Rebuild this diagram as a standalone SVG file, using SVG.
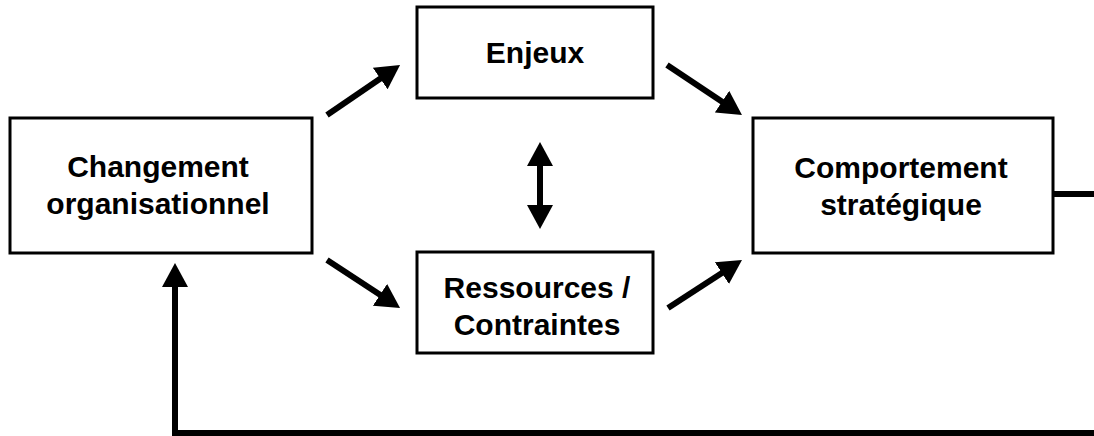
<svg xmlns="http://www.w3.org/2000/svg" width="1094" height="436" viewBox="0 0 1094 436">
  <style>
    .box { fill: #ffffff; stroke: #000000; stroke-width: 3; }
    .label { font-family: "Liberation Sans", Arial, sans-serif; font-weight: bold; font-size: 30px; fill: #000000; text-anchor: middle; }
    .arrow { fill: none; stroke: #000000; stroke-width: 6; }
  </style>
  <defs>
    <!-- solid triangular head; line ends 6px inside the head -->
    <marker id="head" markerUnits="userSpaceOnUse" viewBox="0 0 24 26" markerWidth="24" markerHeight="26" refX="6" refY="13" orient="auto-start-reverse">
      <path d="M0,0 L24,13 L0,26 Z" fill="#000000"/>
    </marker>
  </defs>

  <rect width="1094" height="436" fill="#ffffff"/>

  <g id="connectors">
    <line class="arrow" x1="327" y1="115" x2="385.2" y2="75.2" marker-end="url(#head)"/>
    <line class="arrow" x1="667" y1="65" x2="727" y2="105" marker-end="url(#head)"/>
    <line class="arrow" x1="327" y1="260" x2="385" y2="298.1" marker-end="url(#head)"/>
    <line class="arrow" x1="668" y1="308" x2="726.9" y2="269.8" marker-end="url(#head)"/>
    <line class="arrow" x1="540" y1="160" x2="540" y2="211" marker-start="url(#head)" marker-end="url(#head)"/>
    <!-- feedback loop: leaves the right box, runs along the bottom, back up to the left box -->
    <path class="arrow" d="M1053,194 H1104 V433 H175 V281" stroke-linejoin="miter" marker-end="url(#head)"/>
  </g>

  <g id="changement">
    <rect class="box" x="10" y="118" width="302" height="135"/>
    <text class="label" x="158" y="177">Changement</text>
    <text class="label" x="158" y="214">organisationnel</text>
  </g>

  <g id="enjeux">
    <rect class="box" x="417" y="7" width="236" height="91"/>
    <text class="label" x="535" y="63">Enjeux</text>
  </g>

  <g id="ressources">
    <rect class="box" x="417" y="252" width="236" height="101"/>
    <text class="label" x="537" y="298">Ressources /</text>
    <text class="label" x="537" y="335">Contraintes</text>
  </g>

  <g id="comportement">
    <rect class="box" x="753" y="118" width="300" height="135"/>
    <text class="label" x="901" y="178">Comportement</text>
    <text class="label" x="901" y="215">stratégique</text>
  </g>
</svg>
